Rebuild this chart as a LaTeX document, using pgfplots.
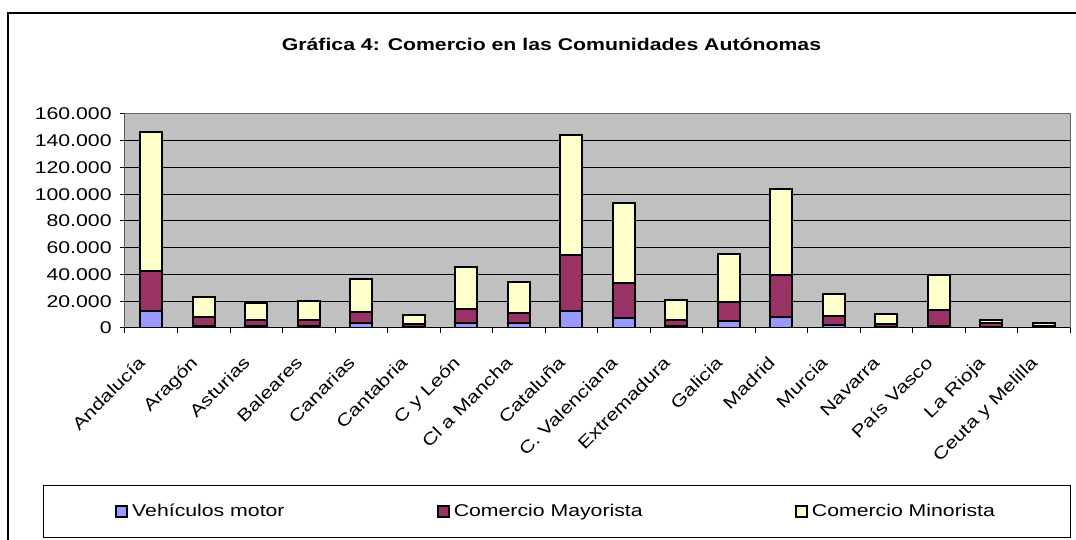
\documentclass[border=0pt]{standalone}
\usepackage{pgfplots}
\pgfplotsset{compat=1.18}
\usepackage{pgfplotstable}
\usepackage{fontspec}
\usepackage{graphicx}
\setmainfont[FakeStretch=1.25]{Liberation Sans}
\newfontfamily\plainfont{Liberation Sans}
\definecolor{veh}{HTML}{9999FF}
\definecolor{may}{HTML}{993366}
\definecolor{mino}{HTML}{FFFFCC}
\definecolor{plotbg}{HTML}{C0C0C0}
\newcommand{\lf}{\fontsize{8.5pt}{10pt}\selectfont}
\newcommand{\sx}[1]{\scalebox{1.25}[1]{#1}}

\pgfplotstableread{
x veh may mino
0 12950 29900 103450
1 1500 6500 15200
2 1200 4550 12700
3 1500 4500 14200
4 3500 8500 24600
5 800 2200 6500
6 4000 10000 31400
7 3500 7500 23600
8 12500 42100 89700
9 7700 25700 59800
10 1500 4500 14700
11 5200 14000 35900
12 8500 31100 64100
13 2500 6700 16000
14 1000 1800 7400
15 1700 11800 25900
16 600 2900 2500
17 300 1200 2000
}\datatable

\begin{document}
\begin{tikzpicture}
\useasboundingbox (0,0) rectangle (538pt,270pt);
\draw[line width=0.7pt] (4pt,-2pt) -- (4pt,263.5pt) -- (545pt,263.5pt);
\node[font=\lf\bfseries] at (275.75pt,248pt) {Gráfica 4: Comercio en las Comunidades Autónomas};
\begin{axis}[
  at={(62.5pt,106pt)}, anchor=south west, scale only axis,
  width=472.5pt, height=107pt,
  ybar stacked, bar width=11pt,
  xmin=-0.5, xmax=17.5, ymin=0, ymax=160000,
  axis background/.style={fill=plotbg},
  axis line style={draw=gray!80!black, line width=0.5pt},
  ytick={0,20000,...,160000},
  ymajorgrids, grid style={black, line width=0.5pt},
  xtick={-0.5,0.5,...,17.5}, xticklabels={},
  extra x ticks={0,1,...,17},
  extra x tick labels={\sx{Andalucía},\sx{Aragón},\sx{Asturias},\sx{Baleares},\sx{Canarias},\sx{Cantabria},\sx{C y León},\sx{Cl a Mancha},\sx{Cataluña},\sx{C. Valenciana},\sx{Extremadura},\sx{Galicia},\sx{Madrid},\sx{Murcia},\sx{Navarra},\sx{País Vasco},\sx{La Rioja},\sx{Ceuta y Melilla}},
  extra x tick style={major tick length=0pt},
  xticklabel style={xshift=-7pt, yshift=-12pt, rotate=45, anchor=north east, inner sep=1pt, font=\plainfont\lf},
  tick align=outside, major tick length=2.5pt,
  tick style={black, line width=0.5pt},
  xtick pos=left, ytick pos=left,
  scaled y ticks=false,
  /pgf/number format/.cd, 1000 sep={.}, fixed, precision=0, assume math mode=true, /pgfplots/.cd,
  yticklabel={\pgfmathprintnumber{\tick}},
  yticklabel style={inner sep=0pt, xshift=-4pt, font=\lf},
  legend columns=3,
  legend style={at={(0.45714,-0.85748)}, anchor=center, draw=black, line width=0.5pt,
    font=\lf, inner xsep=36pt, inner ysep=7pt,
    /tikz/every even column/.append style={column sep=74pt}},
  legend image code/.code={\draw[#1] (0pt,-2.75pt) rectangle (5.5pt,2.75pt);},
]
\addplot[fill=veh, draw=black, line width=1.1pt] table[x=x, y=veh] {\datatable};
\addplot[fill=may, draw=black, line width=1.1pt] table[x=x, y=may] {\datatable};
\addplot[fill=mino, draw=black, line width=1.1pt] table[x=x, y=mino] {\datatable};
\legend{Vehículos motor,Comercio Mayorista,Comercio Minorista}
\draw[black, line width=0.5pt] (rel axis cs:0,0) -- (rel axis cs:0,1);
\draw[black, line width=0.5pt] (rel axis cs:0,0) -- (rel axis cs:1,0);
\end{axis}
\end{tikzpicture}
\end{document}
